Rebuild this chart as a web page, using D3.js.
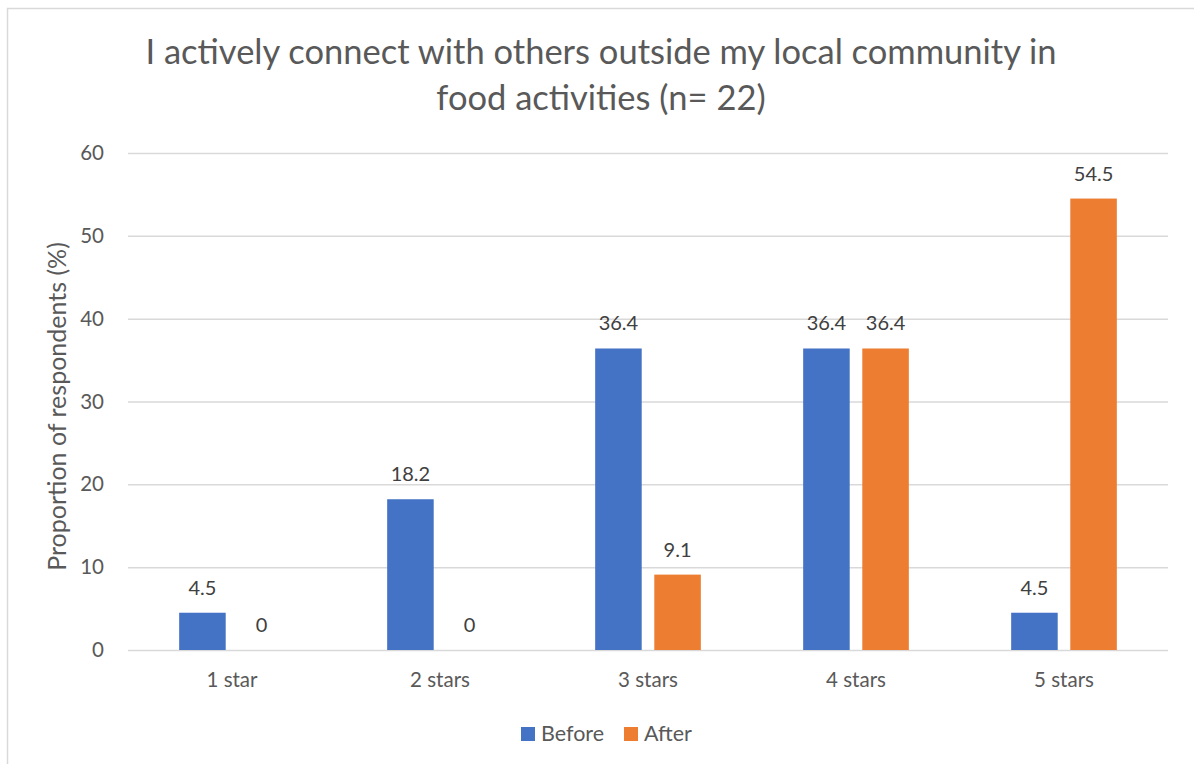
<!DOCTYPE html>
<html>
<head>
<meta charset="utf-8">
<script src="https://cdn.jsdelivr.net/npm/d3@7"></script>
<style>
  html, body { margin: 0; padding: 0; background: #fff; }
  svg { display: block; font-family: Lato, "Open Sans", sans-serif; }
</style>
</head>
<body>
<svg id="chart" width="1194" height="764"></svg>
<script>
// Survey responses, share of respondents per star rating (%)
const categories = ["1 star", "2 stars", "3 stars", "4 stars", "5 stars"];
const seriesNames = ["Before", "After"];
const beforeValues = [4.5, 18.2, 36.4, 36.4, 4.5];
const afterValues = [0, 0, 9.1, 36.4, 54.5];
const yTicks = [0, 10, 20, 30, 40, 50, 60];
const titleLines = ["I actively connect with others outside my local community in", "food activities (n= 22)"];
const yTitle = "Proportion of respondents (%)";

const colors = { Before: "#4472C4", After: "#ED7D31" };

const svg = d3.select("#chart");
const W = 1194, H = 764;
const plot = { left: 128, right: 1168, top: 153, bottom: 650 };

// chart frame
svg.append("rect")
  .attr("x", 7.5).attr("y", 8.5)
  .attr("width", W).attr("height", H)
  .attr("fill", "#fff").attr("stroke", "#D9D9D9").attr("stroke-width", 1.5);

const x0 = d3.scaleBand().domain(categories).range([plot.left, plot.right]).padding(0);
const groupW = x0.bandwidth() * 0.508;
const x1 = d3.scaleBand().domain(seriesNames).range([0, groupW]).paddingInner(0.213).paddingOuter(0);
const groupOffset = (x0.bandwidth() - groupW) / 2;
const y = d3.scaleLinear().domain([0, 60]).range([plot.bottom, plot.top]);

// gridlines + y tick labels
const yAxis = d3.axisLeft(y).tickValues(yTicks).tickSize(-(plot.right - plot.left)).tickPadding(24);
const gy = svg.append("g").attr("transform", `translate(${plot.left},0)`).call(yAxis);
gy.select(".domain").remove();
gy.selectAll(".tick line").attr("stroke", "#D9D9D9").attr("stroke-width", 1.5);
gy.selectAll(".tick text").attr("fill", "#595959").attr("font-size", 20.5).attr("font-family", "Lato, sans-serif");

// x category labels
const xAxis = d3.axisBottom(x0).tickSize(0).tickPadding(22);
const gx = svg.append("g").attr("transform", `translate(0,${plot.bottom})`).call(xAxis);
gx.select(".domain").remove();
gx.selectAll(".tick text").attr("fill", "#595959").attr("font-size", 20.5).attr("font-family", "Lato, sans-serif");

// bar data
const rows = categories.map((c, i) => ({
  category: c,
  values: [
    { series: "Before", value: beforeValues[i] },
    { series: "After", value: afterValues[i] }
  ]
}));

const groups = svg.append("g").selectAll("g").data(rows).join("g")
  .attr("transform", d => `translate(${x0(d.category) + groupOffset},0)`);

groups.selectAll("rect").data(d => d.values).join("rect")
  .attr("x", d => x1(d.series))
  .attr("width", x1.bandwidth())
  .attr("y", d => y(d.value))
  .attr("height", d => y(0) - y(d.value))
  .attr("fill", d => colors[d.series]);

groups.selectAll("text").data(d => d.values).join("text")
  .attr("x", d => x1(d.series) + x1.bandwidth() / 2)
  .attr("y", d => y(d.value) - 18)
  .attr("text-anchor", "middle")
  .attr("font-size", 20)
  .attr("fill", "#404040")
  .text(d => d.value);

// title
svg.append("text")
  .attr("text-anchor", "middle")
  .attr("font-size", 34.5)
  .attr("fill", "#595959")
  .selectAll("tspan").data(titleLines).join("tspan")
  .attr("x", 601)
  .attr("y", (d, i) => 64 + i * 46)
  .text(d => d);

// y axis title
svg.append("text")
  .attr("transform", `translate(66,${(plot.top + plot.bottom) / 2 + 5}) rotate(-90)`)
  .attr("text-anchor", "middle")
  .attr("font-size", 25)
  .attr("fill", "#595959")
  .text(yTitle);

// legend
const legend = svg.append("g").attr("transform", "translate(521,727)");
const legendX = [0, 103];
const li = legend.selectAll("g").data(seriesNames).join("g")
  .attr("transform", (d, i) => `translate(${legendX[i]},0)`);
li.append("rect").attr("width", 14).attr("height", 14).attr("fill", d => colors[d]);
li.append("text").attr("x", 20).attr("y", 14)
  .attr("font-size", 21.5).attr("fill", "#595959").text(d => d);
</script>
</body>
</html>
